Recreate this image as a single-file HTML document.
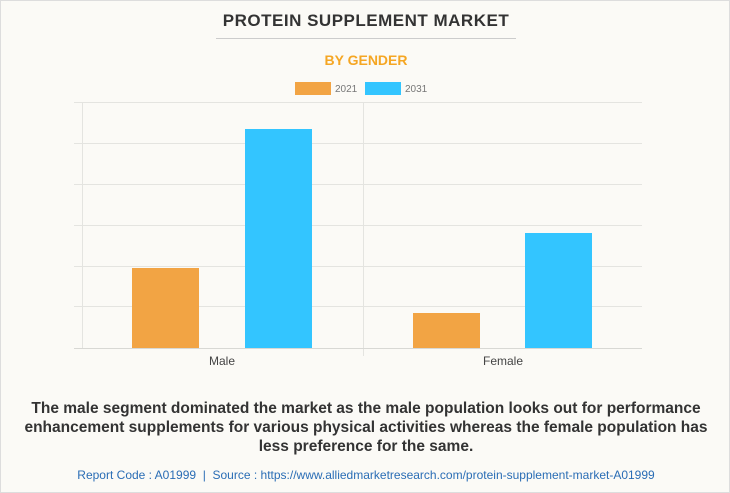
<!DOCTYPE html>
<html><head><style>
body{margin:0;background:#fff}
.w{position:relative;width:728px;height:491px;border:1px solid #ddd;background:#fbfaf6;font-family:"Liberation Sans",sans-serif;overflow:hidden}
.t{position:absolute;left:0;width:730px;text-align:center}
</style></head><body><div class="w">
<div class="t" style="top:10px;font-size:17px;font-weight:bold;color:#333;letter-spacing:0.5px">PROTEIN SUPPLEMENT MARKET</div>
<div style="position:absolute;left:215px;top:37px;width:300px;height:1px;background:#ccc"></div>
<div class="t" style="top:51px;font-size:14px;font-weight:bold;color:#f5a623">BY GENDER</div>
<svg style="position:absolute;left:0;top:0" width="730" height="493">
<rect x="294" y="81" width="36" height="13" fill="#f2a444"/>
<text x="334" y="91" font-size="10" fill="#777" font-family="Liberation Sans">2021</text>
<rect x="364" y="81" width="36" height="13" fill="#33c5ff"/>
<text x="404" y="91" font-size="10" fill="#777" font-family="Liberation Sans">2031</text>
<g stroke="#e4e4e0" stroke-width="1">
<line x1="73" y1="101.5" x2="641" y2="101.5"/>
<line x1="73" y1="142.5" x2="641" y2="142.5"/>
<line x1="73" y1="183.5" x2="641" y2="183.5"/>
<line x1="73" y1="224.5" x2="641" y2="224.5"/>
<line x1="73" y1="265.5" x2="641" y2="265.5"/>
<line x1="73" y1="305.5" x2="641" y2="305.5"/>
<line x1="81.5" y1="101" x2="81.5" y2="347"/>
<line x1="362.5" y1="101" x2="362.5" y2="355"/>
</g>
<line x1="73" y1="347.5" x2="641" y2="347.5" stroke="#d8d8d4"/>
<rect x="131" y="267" width="67" height="80" fill="#f2a444"/>
<rect x="244" y="128" width="67" height="219" fill="#33c5ff"/>
<rect x="412" y="312" width="67" height="35" fill="#f2a444"/>
<rect x="524" y="232" width="67" height="115" fill="#33c5ff"/>
<text x="221" y="364" font-size="12" fill="#444" text-anchor="middle" font-family="Liberation Sans">Male</text>
<text x="502" y="364" font-size="12" fill="#444" text-anchor="middle" font-family="Liberation Sans">Female</text>
</svg>
<div class="t" style="top:398px;font-size:15.5px;font-weight:bold;color:#333;line-height:19px;left:9px;width:712px">The male segment dominated the market as the male population looks out for performance enhancement supplements for various physical activities whereas the female population has less preference for the same.</div>
<div class="t" style="top:467px;font-size:12px;color:#2a6db5">Report Code : A01999 &nbsp;|&nbsp; Source : https://www.alliedmarketresearch.com/protein-supplement-market-A01999</div>
</div></body></html>
